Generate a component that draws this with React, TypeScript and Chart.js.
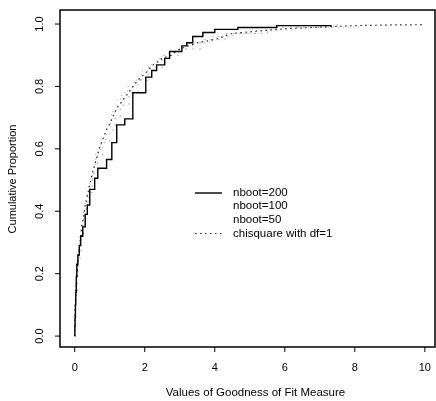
import React, { useEffect, useRef } from "react";
import { Chart, registerables } from "chart.js";

Chart.register(...registerables);

// ---- data ----
const X_TICKS = [0, 2, 4, 6, 8, 10];
const Y_TICKS = [0, 0.2, 0.4, 0.6, 0.8, 1.0];

const X_TITLE = "Values of Goodness of Fit Measure";
const Y_TITLE = "Cumulative Proportion";

const SERIES_LABELS = ["nboot=200", "nboot=100", "nboot=50", "chisquare with df=1"];

// nboot=200 : empirical CDF (jump location, level after jump)
const NB200_X = [0, 0.005, 0.01, 0.02, 0.03, 0.045, 0.06, 0.09, 0.13, 0.17, 0.23, 0.3, 0.36, 0.43, 0.57, 0.66, 0.91, 1.06, 1.2, 1.43, 1.66, 2.03, 2.2, 2.34, 2.57, 2.71, 3.06, 3.2, 3.37, 3.66, 4.0, 4.66, 5.77, 7.34];
const NB200_Y = [0, 0.03, 0.06, 0.1, 0.14, 0.19, 0.23, 0.26, 0.29, 0.32, 0.35, 0.39, 0.42, 0.47, 0.506, 0.538, 0.566, 0.62, 0.677, 0.696, 0.78, 0.83, 0.851, 0.869, 0.89, 0.912, 0.93, 0.94, 0.96, 0.973, 0.983, 0.989, 0.995, 0.995];

// nboot=100 : empirical CDF
const NB100_X = [0, 0.02, 0.05, 0.1, 0.2, 0.3, 0.4, 0.5, 0.6, 0.75, 0.9, 1.05, 1.2, 1.35, 1.5, 1.7, 1.9, 2.1, 2.4, 2.7, 3.0, 3.4, 3.9, 4.5, 5.2, 6.3, 8.2];
const NB100_Y = [0.04, 0.12, 0.2, 0.27, 0.36, 0.43, 0.49, 0.54, 0.59, 0.63, 0.68, 0.72, 0.76, 0.78, 0.8, 0.82, 0.85, 0.87, 0.89, 0.91, 0.93, 0.94, 0.96, 0.97, 0.98, 0.99, 1.0];

// nboot=50 : empirical CDF
const NB50_X = [0, 0.03, 0.08, 0.15, 0.25, 0.35, 0.5, 0.65, 0.8, 1.0, 1.15, 1.3, 1.55, 1.8, 2.1, 2.5, 3.0, 3.6, 4.3, 5.5, 7.5];
const NB50_Y = [0.04, 0.14, 0.24, 0.32, 0.4, 0.46, 0.52, 0.58, 0.62, 0.66, 0.7, 0.74, 0.78, 0.82, 0.86, 0.9, 0.92, 0.95, 0.97, 0.99, 1.0];

// chi-square df=1 curve
const CHI_X = [0, 0.005, 0.01, 0.02, 0.04, 0.06, 0.08, 0.1, 0.15, 0.2, 0.25, 0.3, 0.4, 0.5, 0.6, 0.7, 0.8, 0.9, 1.0, 1.2, 1.4, 1.6, 1.8, 2.0, 2.25, 2.5, 2.75, 3.0, 3.5, 4.0, 4.5, 5.0, 6.0, 7.0, 8.0, 9.0, 10.0];
const CHI_Y = [0, 0.06, 0.08, 0.11, 0.16, 0.19, 0.22, 0.25, 0.3, 0.35, 0.38, 0.42, 0.47, 0.52, 0.56, 0.6, 0.63, 0.66, 0.68, 0.73, 0.76, 0.79, 0.82, 0.84, 0.87, 0.89, 0.9, 0.92, 0.94, 0.95, 0.97, 0.975, 0.985, 0.99, 0.995, 0.997, 0.998];

const toPts = (xs: number[], ys: number[]) => xs.map((x, i) => ({ x, y: ys[i] }));

const FONT = '"Liberation Sans", Arial, sans-serif';

const rAxesPlugin = {
  id: "rAxes",
  afterDraw(chart: any) {
    const { ctx, chartArea, scales } = chart;
    const { left, top, right, bottom } = chartArea;
    const xs = scales.x;
    const ys = scales.y;
    ctx.save();
    ctx.strokeStyle = "#000";
    ctx.fillStyle = "#000";
    ctx.lineWidth = 1.5;
    ctx.strokeRect(left, top, right - left, bottom - top);

    // x ticks
    ctx.lineWidth = 1;
    ctx.font = `11px ${FONT}`;
    ctx.textAlign = "center";
    ctx.textBaseline = "middle";
    X_TICKS.forEach((v) => {
      const px = xs.getPixelForValue(v);
      ctx.beginPath();
      ctx.moveTo(px, bottom);
      ctx.lineTo(px, bottom + 5);
      ctx.stroke();
      ctx.fillText(String(v), px, 368);
    });
    // y ticks
    Y_TICKS.forEach((v) => {
      const py = ys.getPixelForValue(v);
      ctx.beginPath();
      ctx.moveTo(left - 5, py);
      ctx.lineTo(left, py);
      ctx.stroke();
      ctx.save();
      ctx.translate(40, py);
      ctx.rotate(-Math.PI / 2);
      ctx.fillText(v.toFixed(1), 0, 0);
      ctx.restore();
    });
    // titles
    ctx.font = `11.5px ${FONT}`;
    ctx.fillText(X_TITLE, (left + right) / 2 + 8, 393);
    ctx.font = `11px ${FONT}`;
    ctx.save();
    ctx.translate(13, 179);
    ctx.rotate(-Math.PI / 2);
    ctx.fillText(Y_TITLE, 0, 0);
    ctx.restore();

    // legend
    ctx.font = `11.5px ${FONT}`;
    const rows = [193, 206, 219.5, 233.5];
    ctx.textAlign = "left";
    chart.data.datasets.forEach((ds: any, i: number) => {
      const y = rows[i];
      if (ds.legendSample) {
        ctx.save();
        ctx.strokeStyle = ds.borderColor;
        ctx.lineWidth = ds.borderWidth;
        ctx.setLineDash(ds.borderDash || []);
        ctx.beginPath();
        ctx.moveTo(195, y);
        ctx.lineTo(222, y);
        ctx.stroke();
        ctx.restore();
      }
      ctx.fillText(ds.label, 233, y);
    });
    ctx.restore();
  },
};

export default function App() {
  const ref = useRef<HTMLCanvasElement | null>(null);
  useEffect(() => {
    if (!ref.current) return;
    const chart = new Chart(ref.current, {
      type: "line",
      data: {
        datasets: [
          {
            label: SERIES_LABELS[0],
            data: toPts(NB200_X, NB200_Y),
            borderColor: "#000",
            borderWidth: 1.4,
            stepped: "before",
            pointRadius: 0,
            legendSample: true,
          } as any,
          {
            label: SERIES_LABELS[1],
            data: toPts(NB100_X, NB100_Y),
            borderColor: "rgba(0,0,0,0.35)",
            borderWidth: 1,
            borderDash: [1, 4],
            stepped: "before",
            pointRadius: 0,
            legendSample: false,
          } as any,
          {
            label: SERIES_LABELS[2],
            data: toPts(NB50_X, NB50_Y),
            borderColor: "rgba(0,0,0,0.3)",
            borderWidth: 1,
            borderDash: [2, 5],
            stepped: "before",
            pointRadius: 0,
            legendSample: false,
          } as any,
          {
            label: SERIES_LABELS[3],
            data: toPts(CHI_X, CHI_Y),
            borderColor: "#222",
            borderWidth: 1.2,
            borderDash: [1.5, 3.5],
            pointRadius: 0,
            tension: 0,
            legendSample: true,
          } as any,
        ],
      },
      options: {
        animation: false,
        responsive: false,
        layout: { padding: { left: 60, top: 10, right: 1, bottom: 54 } },
        plugins: { legend: { display: false }, tooltip: { enabled: false } },
        scales: {
          x: { type: "linear", min: -0.42, max: 10.29, display: false },
          y: { type: "linear", min: -0.035, max: 1.045, display: false },
        },
      },
      plugins: [rAxesPlugin],
    });
    return () => chart.destroy();
  }, []);
  return (
    <div style={{ position: "fixed", left: 0, top: 0, width: 436, height: 401, background: "#fff" }}>
      <canvas ref={ref} width={436} height={401} />
    </div>
  );
}
